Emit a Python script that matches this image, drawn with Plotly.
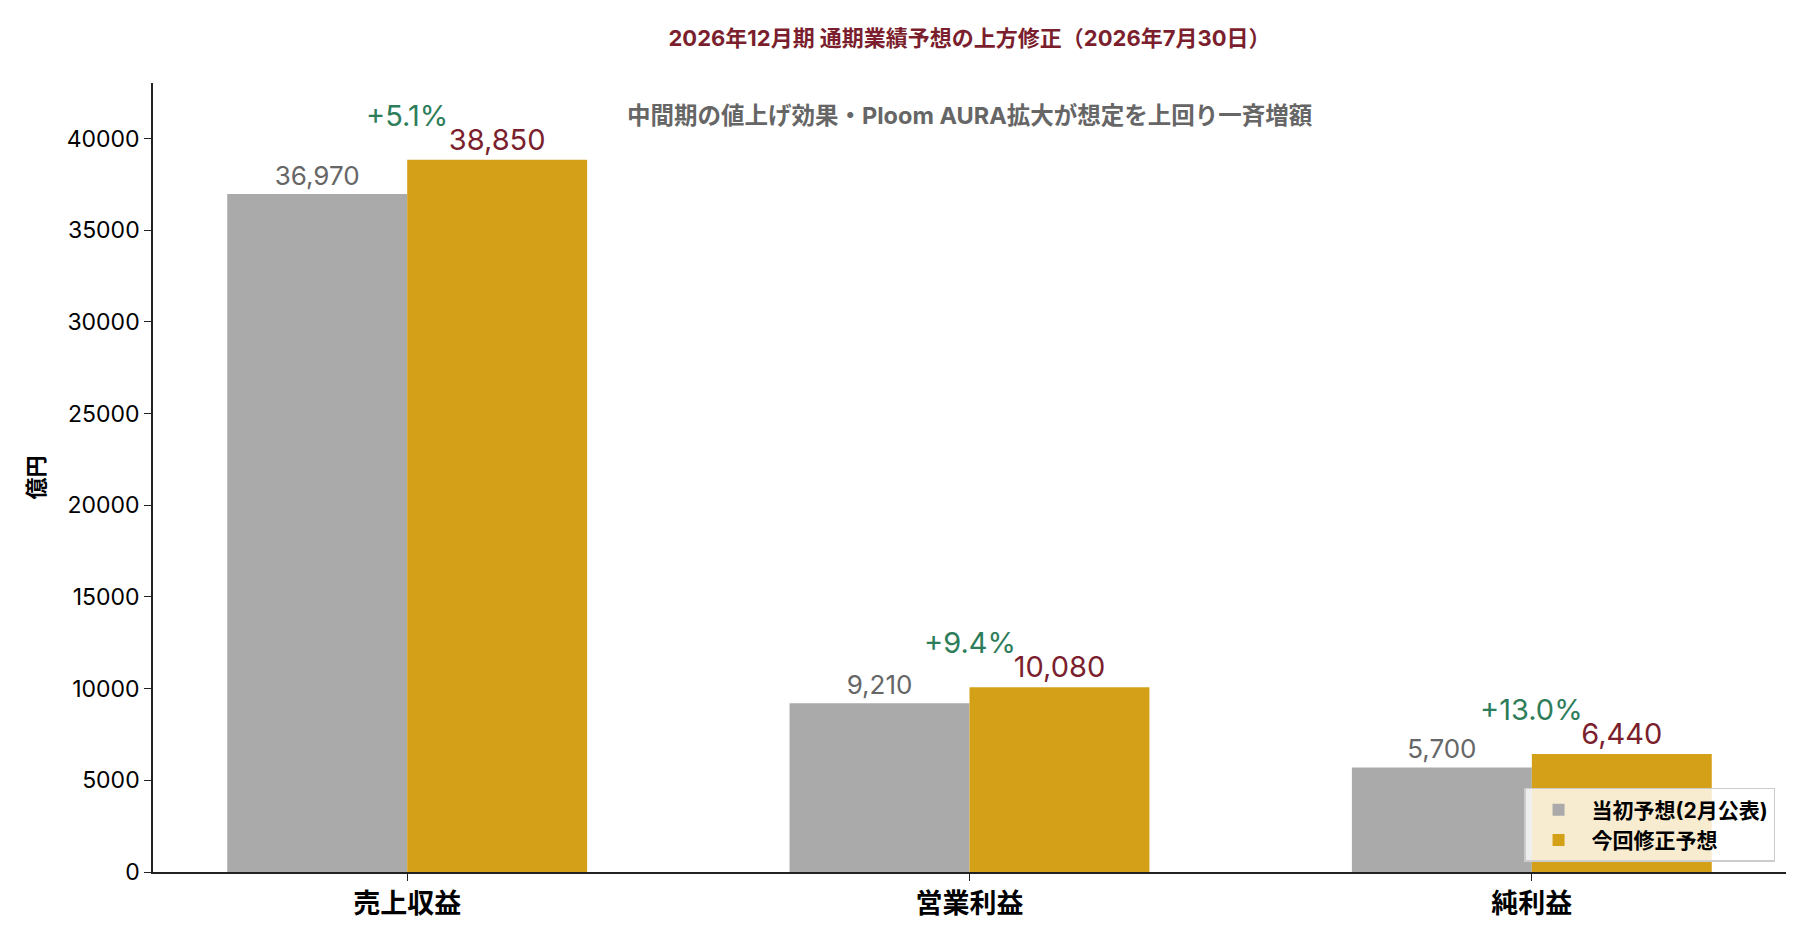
import plotly.graph_objects as go

categories = ["売上収益", "営業利益", "純利益"]
initial = [36970, 9210, 5700]     # 当初予想(2月公表)
revised = [38850, 10080, 6440]    # 今回修正予想
pct_labels = ["+5.1%", "+9.4%", "+13.0%"]
y_ticks = [0, 5000, 10000, 15000, 20000, 25000, 30000, 35000, 40000]

FONT = "Inter, Noto Sans CJK JP"
GRAY = "#AAAAAA"
GOLD = "#D4A017"
RED = "#7B1F2E"
GREEN = "#2E7D5A"

fig = go.Figure()
fig.add_trace(go.Bar(
    x=categories, y=initial, name="<b>当初予想(2月公表)</b>",
    marker_color=GRAY, marker_line_width=0,
    text=[f"{v:,}" for v in initial], textposition="outside",
    textfont=dict(size=26, color="#666666", family=FONT),
    cliponaxis=False,
))
fig.add_trace(go.Bar(
    x=categories, y=revised, name="<b>今回修正予想</b>",
    marker_color=GOLD, marker_line_width=0,
    text=[f"{v:,}" for v in revised], textposition="outside",
    textfont=dict(size=29, color=RED, family=FONT),
    cliponaxis=False,
))

# change rate above each pair
for cat, v, p in zip(categories, revised, pct_labels):
    fig.add_annotation(x=cat, y=v, text=p, showarrow=False,
                       yanchor="bottom", yshift=25,
                       font=dict(size=29, color=GREEN, family=FONT))

fig.add_annotation(x=categories[1], y=0.98, yref="paper", yanchor="top",
                   text="<b>中間期の値上げ効果・Ploom AURA拡大が想定を上回り一斉増額</b>",
                   showarrow=False, font=dict(size=23.5, color="#666666", family=FONT))

fig.update_layout(
    width=1800, height=930,
    margin=dict(l=145, r=22, t=75, b=66),
    paper_bgcolor="white", plot_bgcolor="white",
    font=dict(family=FONT, color="black"),
    title=dict(text="<b>2026年12月期 通期業績予想の上方修正（2026年7月30日）</b>",
               x=0.5, xref="paper", xanchor="center", y=0.967, yanchor="middle",
               font=dict(size=22, color=RED, family=FONT)),
    barmode="group", bargap=0.36, bargroupgap=0,
    legend=dict(x=0.9933, y=0.0127, xanchor="right", yanchor="bottom",
                bgcolor="rgba(255,255,255,0.8)", bordercolor="#CCCCCC", borderwidth=1.5,
                itemwidth=56,
                font=dict(size=21, color="black", family=FONT), traceorder="normal"),
    showlegend=True,
)

fig.update_xaxes(range=[-0.452, 2.452], showline=True, linecolor="#222222", linewidth=1.5,
                 ticks="outside", ticklen=7, tickcolor="#222222", automargin=False,
                 tickfont=dict(size=27, color="black", family=FONT),
                 tickprefix="<b>", ticksuffix="</b>", showgrid=False)
fig.update_yaxes(range=[0, 43030], tickvals=y_ticks, tickformat="d", showline=True,
                 linecolor="#222222", linewidth=1.5, ticks="outside", ticklen=7,
                 tickcolor="#222222", automargin=False,
                 tickfont=dict(size=23, color="black", family=FONT), showgrid=False,
                 zeroline=False,
                 title=dict(text="<b>億円</b>", font=dict(size=22, color="black", family=FONT),
                            standoff=16))

fig.write_html("out.html")
